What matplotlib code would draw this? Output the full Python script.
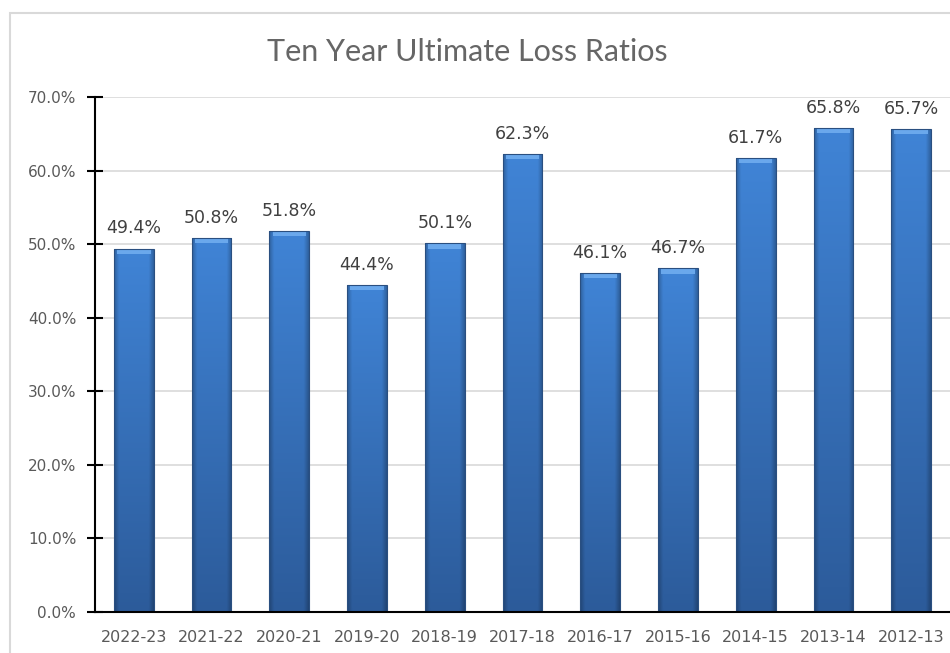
import numpy as np
import matplotlib
matplotlib.use("Agg")
import matplotlib.pyplot as plt
from matplotlib.patches import Rectangle
from matplotlib.ticker import MultipleLocator, PercentFormatter

# data
years = ["2022-23", "2021-22", "2020-21", "2019-20", "2018-19", "2017-18",
         "2016-17", "2015-16", "2014-15", "2013-14", "2012-13"]
loss_ratio = [49.4, 50.8, 51.8, 44.4, 50.1, 62.3, 46.1, 46.7, 61.7, 65.8, 65.7]

plt.rcParams['font.family'] = ['DejaVu Sans']

fig = plt.figure(figsize=(9.5, 6.53), dpi=100)
ax = fig.add_axes([95 / 950, 41 / 653, 855 / 950, 515 / 653])

# outer chart border (cut off on the right and bottom like the screenshot)
fig.patches.append(Rectangle((10 / 950, -0.1), 1.0, 1.1 - 13 / 653,
                             transform=fig.transFigure, fill=False,
                             edgecolor="#d9d9d9", linewidth=1.5))

x = np.arange(len(years))
width = 0.51

# gradient image for the bars: lighter at the top, darker at the bottom,
# darker towards the left/right edges
top = np.array([0x40, 0x84, 0xd6]) / 255
bot = np.array([0x2c, 0x5b, 0x9a]) / 255
ny, nx = 200, 60
t = np.linspace(0, 1, ny)[:, None, None]
grad = top * (1 - t) + bot * t
u = np.linspace(-1, 1, nx)[None, :, None]
shade = 1 - 0.25 * np.clip(np.abs(u) - 0.75, 0, None) / 0.25
img = np.clip(grad * shade, 0, 1)

bars = ax.bar(x, loss_ratio, width=width, color="none", edgecolor="#2a4f80",
              linewidth=0.8, zorder=3)
for b in bars:
    x0, y0 = b.get_x(), b.get_y()
    w, h = b.get_width(), b.get_height()
    im = ax.imshow(img, extent=(x0, x0 + w, y0, y0 + h), aspect="auto",
                   zorder=2, interpolation="bilinear")
    im.set_clip_path(b)
    # light bevel on top of each bar
    ax.add_patch(Rectangle((x0 + 0.04, h - 0.7), w - 0.08, 0.7,
                           facecolor="#6aa8ec", edgecolor="none", zorder=2.5))

for xi, v in zip(x, loss_ratio):
    ax.annotate(f"{v:.1f}%", (xi, v), xytext=(0, 8), textcoords="offset points",
                ha="center", va="bottom", fontsize=12.5, color="#404040")

ax.set_xlim(-0.5, len(years) - 0.5)
ax.set_ylim(0, 70)
ax.yaxis.set_major_locator(MultipleLocator(10))
ax.yaxis.set_major_formatter(PercentFormatter(decimals=1))
ax.set_xticks(x)
ax.set_xticklabels(years)
ax.tick_params(axis="x", length=0, pad=13, labelsize=11.5, labelcolor="#595959")
ax.tick_params(axis="y", direction="inout", length=11, width=1.5, color="black",
               pad=8, labelsize=11, labelcolor="#595959")
ax.grid(axis="y", color="#d9d9d9", linewidth=1.2, zorder=0)
ax.set_axisbelow(True)

for s in ["top", "right"]:
    ax.spines[s].set_visible(False)
for s in ["left", "bottom"]:
    ax.spines[s].set_linewidth(1.5)
    ax.spines[s].set_zorder(4)

fig.text(467 / 950, 1 - 52 / 653, "Ten Year Ultimate Loss Ratios", ha="center",
         va="center", fontsize=22, color="#666666",
         family=["Lato", "DejaVu Sans"], fontweight="normal")

fig.savefig("out.png", dpi=100)
